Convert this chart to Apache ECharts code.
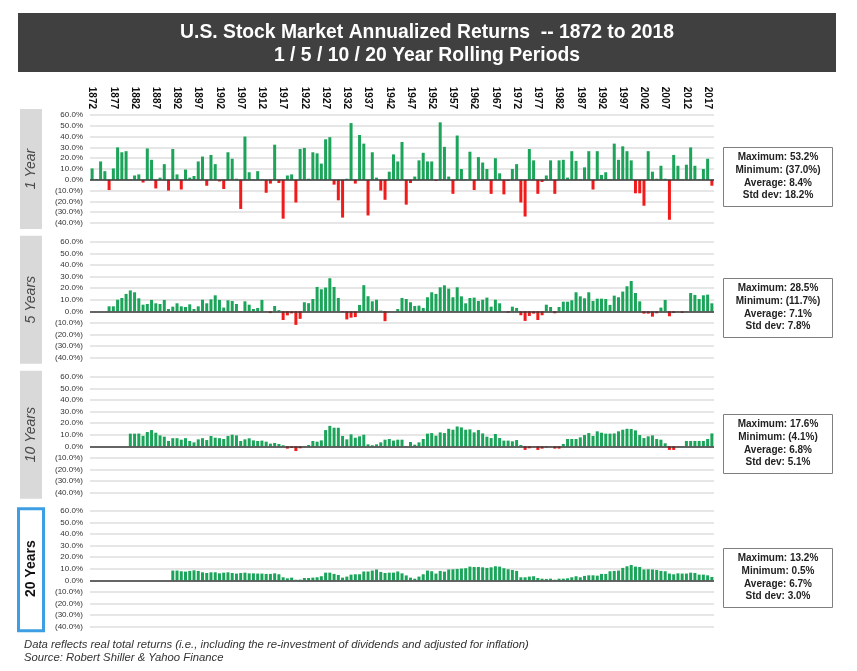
<!DOCTYPE html>
<html>
<head>
<meta charset="utf-8">
<title>U.S. Stock Market Annualized Returns</title>
<script src="https://cdn.jsdelivr.net/npm/echarts@6/dist/echarts.min.js"></script>
<style>
  html, body { margin: 0; padding: 0; background: #fff; }
  #chart { width: 857px; height: 671px; }
</style>
</head>
<body>
<div id="chart"></div>
<script>
// categories: one bar per year
var years = []
for (var y = 1872; y <= 2018; y++) years.push(String(y))

// 1 year returns, from 1872
var ret1 = [
  10.5, 0.8, 17, 8, -9.5, 10.5, 30, 25.5, // 1872-1879
  26.5, 0.5, 4, 5, -2.5, 29, 18.5, -8, 2, 14.5,
  -10, 28.5, 5, -9, 9.5, 2, 3.5, 17, 21.5, -5.5,
  23, 14.5, -1.5, -8.5, 25.5, 19.5, 1, -27, 40, 7,
  0.5, 8, 0.5, -12, -3.5, 32.5, -3, -36, 4, 5,
  -21, 28.5, 29.5, 1, 25.5, 24.5, 15, 37.5, 39.5, -4.5,
  -19, -35, 1, 52.5, -3.5, 41.5, 33.5, -33, 25.5, 2,
  -10, -18.5, 7.5, 23.5, 17, 35, -23, -3, 3, 18,
  25, 17, 17, -1, 53.2, 30.5, 3, -13, 41, 10,
  0.5, 26, -9.5, 21, 16, 10, -13, 20, 6, -13.5,
  -1, 10, 14.5, -21, -34, 28.5, 18, -13, -2, 4,
  18, -13, 18, 18.5, 2, 26.5, 17.5, 0.5, 11.5, 26.5,
  -9, 26.5, 4.5, 7, 0.5, 33.5, 18.5, 31, 26.5, 18,
  -12.5, -12.5, -24, 26.5, 7.5, 1, 13, 1, -37, 23,
  13, 0.5, 14, 30, 13, 0.5, 10, 19.5, -5.5 // 2010-2018
]

// 5 year rolling, from 1876
var ret5 = [
  4.3, 4.3, 10, 11.5, // 1876-1879
  15, 18, 16.4, 11.2, 5.7, 6.3, 9.8, 6.9, 6.3, 9.8,
  2, 4, 6.9, 4.3, 3.7, 6, 2, 4.3, 10, 6.9,
  10.3, 13.8, 9.8, 3.2, 9.5, 8.9, 6.3, -0.3, 8.6, 5.7,
  2, 2.9, 9.8, 0.3, -1.5, 4.6, 1, -7.5, -3.5, -1.8,
  -11.7, -6.5, 7.8, 7, 10.6, 21, 19, 20.5, 28.5, 21,
  11.5, -0.7, -7, -5.5, -5, 5.5, 22.5, 13, 8.6, 10,
  0.6, -8.5, 0.2, 0, 2, 11.5, 10.6, 7.8, 4.6, 4.9,
  2.9, 12.1, 16.4, 15, 20.7, 22.4, 19.5, 12.1, 20.7, 12.9,
  6.9, 11.5, 11.8, 8.9, 10, 11.8, 4, 10, 6.9, 0.2,
  -1.1, 4, 2.9, -3.4, -8.3, -4, -2, -7.5, -3.4, 5.7,
  3.7, -1.7, 3.7, 8.3, 8.3, 9.5, 16.4, 12.9, 11.2, 16.4,
  8.9, 10.9, 10.9, 10.6, 5.5, 13.5, 12.1, 17, 21.6, 26.1,
  15.8, 8.6, -2, -2, -4.6, -1.7, 3.2, 9.8, -4.3, -1.4,
  0.2, -1.4, 0.2, 15.8, 14.1, 10.6, 13.8, 14.4, 6.9
]

// 10 year rolling, from 1881
var ret10 = [
  10.9, 10.9, 11, 9, 12.3, 14, 11.7, 9.4, 8.3, // 1881-1889
  4.6, 7, 7, 5.7, 7, 4.6, 3.4, 6, 7, 5.4,
  8.9, 7.4, 7, 6.3, 8.9, 10, 9.4, 4.6, 6, 6.9,
  5.1, 4.6, 4.9, 4, 2.3, 2.9, 2, 0.9, -2, -1.4,
  -4.1, -1.7, 0.3, 1.1, 4.6, 4, 5.1, 14, 17.6, 16,
  16, 8.9, 6, 10.3, 7.4, 8.6, 10, 1.7, 0.9, 1.7,
  3.4, 5.7, 6.3, 4.9, 5.7, 5.7, 0.2, 3.7, 1.4, 3.4,
  6.3, 10.9, 11.4, 9.1, 12, 11.4, 15.1, 14.3, 17.1, 16.3,
  14.3, 14.6, 12, 14, 11.1, 8.3, 7.1, 10.6, 7.1, 4.9,
  4.9, 4.3, 5.4, 1.1, -3.1, -1.7, -0.3, -3.1, -2, -0.9,
  -0.3, -2, -2, 2, 6.3, 6.3, 6.3, 7.7, 9.7, 11.4,
  8.9, 12.9, 11.7, 10.9, 10.9, 11.1, 12.9, 14.3, 15.1, 14.9,
  13.7, 9.7, 7.1, 8.6, 9.4, 6.3, 5.7, 2.6, -3.1, -3.1,
  -0.3, 0.2, 4.6, 4.6, 4.6, 4.6, 4.6, 6.3, 11.1
]

// 20 year rolling, from 1891
var ret20 = [
  8.4, 8.4, 7.8, 7.5, 8.1, 8.6, 8.1, 6.9, 6.3, // 1891-1899
  6.9, 6.9, 6, 6.6, 6.9, 6.3, 5.8, 6.3, 6.6, 6,
  6, 5.8, 5.8, 5.5, 5.5, 6, 5.2, 2.6, 1.7, 2.3,
  0.5, 0.6, 2, 2, 2.3, 2.6, 3.5, 6.6, 6.6, 5.5,
  4.6, 2.3, 3.2, 4.9, 5.2, 5.2, 7.6, 7.6, 8.4, 9.3,
  7.2, 6.3, 6.6, 6.6, 7.6, 6, 4.2, 2.3, 1.4, 3.2,
  5.2, 8.4, 7.8, 5.8, 8.1, 7.5, 9.3, 9.5, 9.8, 10.1,
  10.4, 11.8, 11.5, 11.5, 11.2, 10.7, 11.2, 12.1, 11.8, 10.4,
  9.5, 8.9, 8.1, 2.6, 2.6, 3.2, 3.5, 2, 1.4, 1.2,
  1.4, 0.5, 1.4, 1.4, 1.7, 2.6, 3.5, 2.6, 3.8, 4.3,
  4.3, 4, 5.5, 5.5, 7.8, 8.1, 8.4, 10.7, 12.1, 13.2,
  11.8, 11.5, 9.3, 9.5, 9.3, 8.9, 8.1, 7.8, 5.8, 5.2,
  6, 5.8, 5.8, 6.6, 6.3, 4.9, 4.9, 4.3, 2.9
]

var panelNames = ['1 Year', '5 Years', '10 Years', '20 Years']
var startYears = [1872, 1876, 1881, 1891]
var statMax = ['53.2%', '28.5%', '17.6%', '13.2%']
var statMin = ['(37.0%)', '(11.7%)', '(4.1%)', '0.5%']
var statAvg = ['8.4%', '7.1%', '6.8%', '6.7%']
var statStd = ['18.2%', '7.8%', '5.1%', '3.0%']

// layout of the four panels (top of 60% line, height to -40% line)
var panelTop = [115, 241.7, 376.7, 510.7]
var panelHeight = [108, 116, 116, 116]
var boxTop = [147, 278, 414, 548]

var GREEN = '#1ca55a'
var RED = '#f21b1b'

function pad(start, vals) {
  return years.map(function (yr) {
    var k = Number(yr) - start
    return k >= 0 && k < vals.length ? vals[k] : null
  })
}

function pct(v) {
  if (v < 0) return '(' + (-v).toFixed(1) + '%)'
  return v.toFixed(1) + '%'
}

var myChart = echarts.init(document.getElementById('chart'))

var grids = [], xAxes = [], yAxes = [], series = [], graphics = []
var allData = [ret1, ret5, ret10, ret20]

for (var i = 0; i < 4; i++) {
  grids.push({ left: 90, width: 624, top: panelTop[i], height: panelHeight[i] })
  xAxes.push({
    type: 'category',
    gridIndex: i,
    data: years,
    position: 'top',
    axisLine: { show: false, onZero: false },
    axisTick: { show: false },
    axisLabel: {
      show: i === 0,
      interval: 4,
      rotate: 90,
      margin: 6,
      fontSize: 10,
      fontWeight: 'bold',
      color: '#111',
      fontFamily: 'Liberation Sans, Arial, sans-serif'
    },
    splitLine: { show: false }
  })
  yAxes.push({
    type: 'value',
    gridIndex: i,
    min: -40,
    max: 60,
    interval: 10,
    axisLine: { show: false },
    axisTick: { show: false },
    axisLabel: {
      formatter: pct,
      fontSize: 8,
      margin: 7,
      color: '#333',
      fontFamily: 'Liberation Sans, Arial, sans-serif'
    },
    splitLine: { lineStyle: { color: '#dedede', width: 1.5 } }
  })
  series.push({
    type: 'bar',
    xAxisIndex: i,
    yAxisIndex: i,
    barWidth: 3,
    data: pad(startYears[i], allData[i]),
    itemStyle: {
      color: function (p) { return p.value < 0 ? RED : GREEN }
    },
    markLine: {
      silent: true,
      symbol: 'none',
      label: { show: false },
      lineStyle: { color: '#3a3a3a', width: 1.5, type: 'solid' },
      data: [{ yAxis: 0 }]
    }
  })

  // side label box
  var midY = panelTop[i] + panelHeight[i] / 2
  if (i < 3) {
    graphics.push({
      type: 'rect',
      shape: { x: 20, y: panelTop[i] - 6, width: 22, height: panelHeight[i] + 12 },
      style: { fill: '#d9d9d9' }
    })
    graphics.push({
      type: 'text',
      x: 31, y: midY, rotation: Math.PI / 2,
      style: {
        text: panelNames[i],
        font: 'italic 14px Liberation Sans, Arial, sans-serif',
        fill: '#4a4a4a',
        textAlign: 'center',
        textVerticalAlign: 'middle'
      }
    })
  } else {
    graphics.push({
      type: 'rect',
      shape: { x: 18.5, y: panelTop[i] - 2, width: 25, height: panelHeight[i] + 6 },
      style: { fill: '#fff', stroke: '#3d9ee4', lineWidth: 3 }
    })
    graphics.push({
      type: 'text',
      x: 31, y: midY, rotation: Math.PI / 2,
      style: {
        text: panelNames[i],
        font: 'bold 14px Liberation Sans, Arial, sans-serif',
        fill: '#111',
        textAlign: 'center',
        textVerticalAlign: 'middle'
      }
    })
  }

  // stats box
  graphics.push({
    type: 'rect',
    shape: { x: 723.5, y: boxTop[i] + 0.5, width: 109, height: 59 },
    style: { fill: '#fff', stroke: '#7f7f7f', lineWidth: 1 }
  })
  graphics.push({
    type: 'text',
    x: 778, y: boxTop[i] + 29.5,
    style: {
      text: 'Maximum: ' + statMax[i] + '\nMinimum: ' + statMin[i] +
        '\nAverage: ' + statAvg[i] + '\nStd dev: ' + statStd[i],
      font: 'bold 10px Liberation Sans, Arial, sans-serif',
      lineHeight: 12.8,
      fill: '#222',
      textAlign: 'center',
      textVerticalAlign: 'middle'
    }
  })
}

// title banner
graphics.push({
  type: 'rect',
  shape: { x: 18, y: 13, width: 818, height: 59 },
  style: { fill: '#404040' }
})
graphics.push({
  type: 'text',
  x: 427, y: 32, scaleX: 0.92,
  style: {
    text: 'U.S. Stock Market Annualized Returns  -- 1872 to 2018',
    font: 'bold 21px Liberation Sans, Arial, sans-serif',
    fill: '#fff', textAlign: 'center', textVerticalAlign: 'middle'
  }
})
graphics.push({
  type: 'text',
  x: 427, y: 55, scaleX: 0.92,
  style: {
    text: '1 / 5 / 10 / 20 Year Rolling Periods',
    font: 'bold 21px Liberation Sans, Arial, sans-serif',
    fill: '#fff', textAlign: 'center', textVerticalAlign: 'middle'
  }
})

// footnote
graphics.push({
  type: 'text',
  x: 24, y: 645,
  style: {
    text: 'Data reflects real total returns (i.e., including the re-investment of dividends and adjusted for inflation)',
    font: 'italic 11.3px Liberation Sans, Arial, sans-serif',
    fill: '#333', textVerticalAlign: 'middle'
  }
})
graphics.push({
  type: 'text',
  x: 24, y: 658,
  style: {
    text: 'Source: Robert Shiller & Yahoo Finance',
    font: 'italic 11.3px Liberation Sans, Arial, sans-serif',
    fill: '#333', textVerticalAlign: 'middle'
  }
})

var option = {
  animation: false,
  backgroundColor: '#fff',
  grid: grids,
  xAxis: xAxes,
  yAxis: yAxes,
  series: series,
  graphic: graphics
}

myChart.setOption(option)
</script>
</body>
</html>
